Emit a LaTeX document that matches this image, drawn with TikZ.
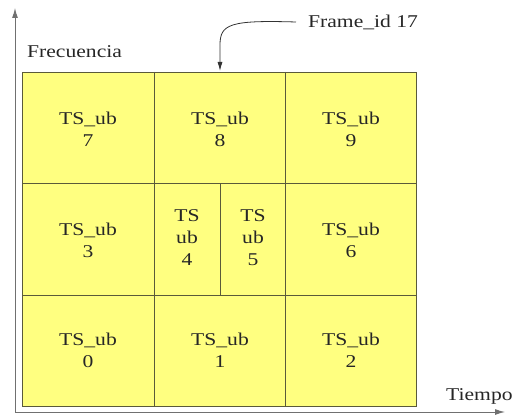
\documentclass[tikz,border=0pt]{standalone}
\usepackage{fontspec}
\usepackage{graphicx}
\setmainfont{Liberation Serif}
\newfontfamily\tmsfont{Liberation Serif}
\usetikzlibrary{arrows.meta}
\definecolor{cellfill}{HTML}{FFFF80}
\definecolor{cellline}{HTML}{5A5A3A}
\definecolor{axisgray}{HTML}{707070}
\newcommand\sx[1]{\scalebox{1.2}[1]{#1}}
\begin{document}
\begin{tikzpicture}[x=1pt,y=-1pt,
  cell/.style={draw=cellline,fill=cellfill,line width=0.9pt},
  lbl/.style={font=\tmsfont\fontsize{18}{22}\selectfont,align=center,text=black!85},
  txt/.style={font=\tmsfont\fontsize{18}{22}\selectfont,text=black!85,anchor=base west,inner sep=0pt},
  axis/.style={draw=axisgray,line width=1pt,-{Latex[length=10pt,width=6pt]}}]
\useasboundingbox (0,0) rectangle (514,417);
% grid
\path[cell] (22,72) rectangle (416,406);
\draw[cellline,line width=0.9pt] (154,72) -- (154,406);
\draw[cellline,line width=0.9pt] (285,72) -- (285,406);
\draw[cellline,line width=0.9pt] (22,183) -- (416,183);
\draw[cellline,line width=0.9pt] (22,295) -- (416,295);
\draw[cellline,line width=0.9pt] (220,183) -- (220,295);
% axes
\coordinate (o) at (15,412);
\coordinate (ytop) at (15,8);
\coordinate (xend) at (505,412);
\draw[axis] (o) -- (ytop);
\draw[axis] (o) -- (xend);
\node[txt] (frec) at (27,58) {\sx{Frecuencia}};
\node[txt] (tiempo) at (446,400) {\sx{Tiempo}};
\node[txt] (frame) at (308,28) {\sx{Frame\_id 17}};
\coordinate (fstart) at (296,22);
\coordinate (ftop) at (220,71);
\draw[black!80,line width=0.8pt,-{Latex[length=9pt,width=5pt]}] (fstart) .. controls (230,20) and (220,24) .. (220,45) -- (ftop);
% labels
\node[lbl] (c7) at (88,129) {\sx{TS\_ub}\\\sx{7}};
\node[lbl] (c8) at (220,129) {\sx{TS\_ub}\\\sx{8}};
\node[lbl] (c9) at (351,129) {\sx{TS\_ub}\\\sx{9}};
\node[lbl] (c3) at (88,240) {\sx{TS\_ub}\\\sx{3}};
\node[lbl] (c4) at (187,238) {\sx{TS}\\\sx{ub}\\\sx{4}};
\node[lbl] (c5) at (253,238) {\sx{TS}\\\sx{ub}\\\sx{5}};
\node[lbl] (c6) at (351,240) {\sx{TS\_ub}\\\sx{6}};
\node[lbl] (c0) at (88,350) {\sx{TS\_ub}\\\sx{0}};
\node[lbl] (c1) at (220,350) {\sx{TS\_ub}\\\sx{1}};
\node[lbl] (c2) at (351,350) {\sx{TS\_ub}\\\sx{2}};
\end{tikzpicture}
\end{document}
